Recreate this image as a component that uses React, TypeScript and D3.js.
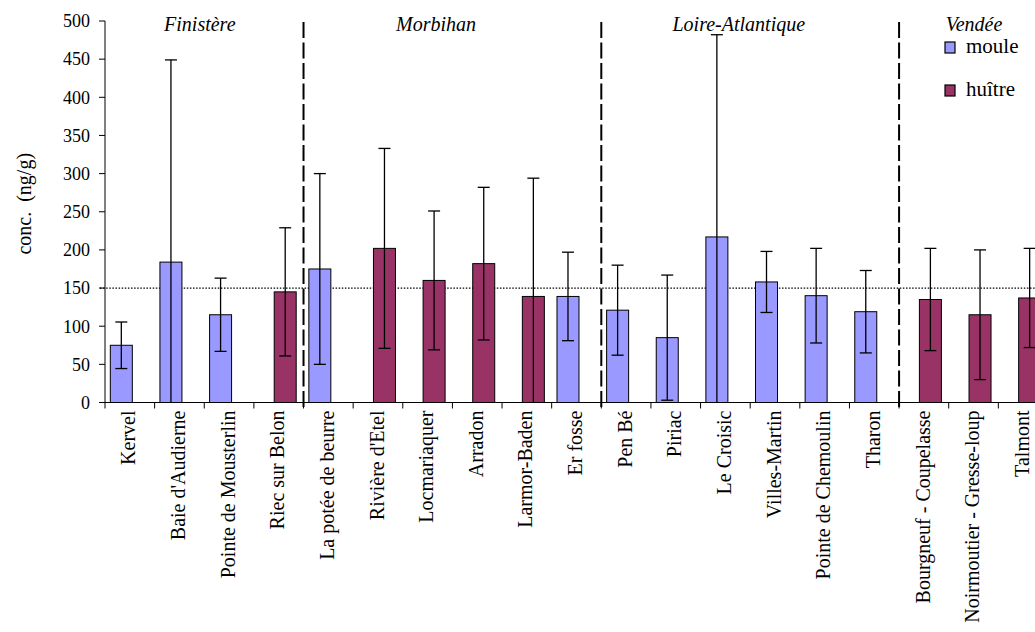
import React from 'react';
import * as d3 from 'd3';

// Sampling sites, in order along the coast
const categories = [
  'Kervel',
  "Baie d'Audierne",
  'Pointe de Mousterlin',
  'Riec sur Belon',
  'La potée de beurre',
  "Rivière d'Etel",
  'Locmariaquer',
  'Arradon',
  'Larmor-Baden',
  'Er fosse',
  'Pen Bé',
  'Piriac',
  'Le Croisic',
  'Villes-Martin',
  'Pointe de Chemoulin',
  'Tharon',
  'Bourgneuf - Coupelasse',
  'Noirmoutier - Gresse-loup',
  'Talmont',
];

// Species sampled at each site
const species = [
  'moule', 'moule', 'moule', 'huître',
  'moule', 'huître', 'huître', 'huître', 'huître', 'moule',
  'moule', 'moule', 'moule', 'moule', 'moule', 'moule',
  'huître', 'huître', 'huître',
];

// Mean concentration (ng/g) and standard deviation per site
const means = [75, 184, 115, 145, 175, 202, 160, 182, 139, 139, 121, 85, 217, 158, 140, 119, 135, 115, 137];
const errors = [30.5, 265, 48, 84, 125, 131, 91, 100, 155, 58, 59, 82, 265, 40, 62, 54, 67, 85, 65];

// Départements: name, first and last site index
const groupNames = ['Finistère', 'Morbihan', 'Loire-Atlantique', 'Vendée'];
const groupFirst = [0, 4, 10, 16];
const groupLast = [3, 9, 15, 18];

const seriesNames = ['moule', 'huître'];
const seriesColors = ['#9999FF', '#993366'];

const yTicks = [0, 50, 100, 150, 200, 250, 300, 350, 400, 450, 500];
const referenceLevel = 150;

// Layout
const W = 1035;
const H = 632;
const left = 105;
const top = 21;
const bottom = 402.5;
const bandW = 49.63;
const barW = 22;
const font = 'Liberation Serif, DejaVu Serif, serif';
// where each département title sits, in category units
const groupLabelAt = [1.91, 6.67, 12.77, 17.51];

export default function App() {
  const x = d3
    .scaleBand<string>()
    .domain(categories)
    .range([left, left + bandW * categories.length])
    .padding(0);
  const xs = d3
    .scalePoint<string>()
    .domain(seriesNames)
    .range([x.bandwidth() / 2 - 8.5, x.bandwidth() / 2 + 6.5]);
  const idx = d3.scaleLinear().domain([0, categories.length]).range([left, left + bandW * categories.length]);
  const y = d3.scaleLinear().domain([0, 500]).range([bottom, top]);
  const color = d3.scaleOrdinal<string, string>().domain(seriesNames).range(seriesColors);
  const xEnd = left + bandW * categories.length;

  return (
    <svg
      width={W}
      height={H}
      style={{ position: 'fixed', left: 0, top: 0, background: '#fff' }}
    >
      {/* reference level */}
      <line
        x1={left - 5}
        x2={xEnd}
        y1={y(referenceLevel)}
        y2={y(referenceLevel)}
        stroke="#000"
        strokeWidth={1.3}
        strokeDasharray="1.5,1.6"
      />

      {/* bars */}
      {categories.map((c, i) => {
        const cx = (x(c) as number) + (xs(species[i]) as number);
        return (
          <rect
            key={'b' + c}
            x={cx - barW / 2}
            y={y(means[i])}
            width={barW}
            height={y(0) - y(means[i])}
            fill={color(species[i])}
            stroke="#000"
            strokeWidth={1}
          />
        );
      })}

      {/* error bars */}
      {categories.map((c, i) => {
        const cx = (x(c) as number) + (xs(species[i]) as number);
        const hi = means[i] + errors[i];
        const lo = means[i] - errors[i];
        const loClamped = Math.max(0, lo);
        return (
          <g key={'e' + c} stroke="#000" strokeWidth={1.3}>
            <line x1={cx} x2={cx} y1={y(hi)} y2={y(loClamped)} />
            <line x1={cx - 6} x2={cx + 6} y1={y(hi)} y2={y(hi)} />
            {lo >= 0 && <line x1={cx - 6} x2={cx + 6} y1={y(lo)} y2={y(lo)} />}
          </g>
        );
      })}

      {/* département separators */}
      {groupLast.slice(0, -1).map((g, k) => (
        <line
          key={'s' + k}
          x1={idx(g + 1)}
          x2={idx(g + 1)}
          y1={top + 1}
          y2={bottom + 6}
          stroke="#000"
          strokeWidth={2}
          strokeDasharray="16,4.5"
        />
      ))}

      {/* y axis */}
      <line x1={left} x2={left} y1={top} y2={bottom} stroke="#000" strokeWidth={1} />
      {yTicks.map((t) => (
        <g key={'y' + t}>
          <line x1={left - 6} x2={left} y1={y(t)} y2={y(t)} stroke="#000" strokeWidth={1} />
          <text
            x={left - 15}
            y={y(t)}
            dy="0.35em"
            textAnchor="end"
            fontFamily={font}
            fontSize={18}
            fill="#000"
          >
            {t}
          </text>
        </g>
      ))}
      <text
        transform={`translate(24, ${(top + bottom) / 2 - 8}) rotate(-90)`}
        textAnchor="middle"
        dy="0.35em"
        fontFamily={font}
        fontSize={20}
        fill="#000"
        style={{ whiteSpace: 'pre' }}
      >
        {'conc.  (ng/g)'}
      </text>

      {/* x axis */}
      <line x1={left} x2={xEnd} y1={bottom} y2={bottom} stroke="#000" strokeWidth={1} />
      {d3.range(categories.length + 1).map((k) => (
        <line key={'t' + k} x1={idx(k)} x2={idx(k)} y1={bottom} y2={bottom + 6} stroke="#000" strokeWidth={1} />
      ))}
      {categories.map((c) => (
        <text
          key={'l' + c}
          transform={`translate(${(x(c) as number) + x.bandwidth() / 2 - 1}, ${bottom + 8}) rotate(-90)`}
          textAnchor="end"
          dy="0.33em"
          fontFamily={font}
          fontSize={20}
          fill="#000"
          style={{ whiteSpace: 'pre' }}
        >
          {c}
        </text>
      ))}

      {/* département titles */}
      {groupNames.map((g, k) => (
        <text
          key={'g' + g}
          x={idx(groupLabelAt[k])}
          y={31}
          textAnchor="middle"
          fontFamily={font}
          fontSize={20}
          fontStyle="italic"
          fill="#000"
        >
          {g}
        </text>
      ))}

      {/* legend */}
      {seriesNames.map((s, k) => (
        <g key={'lg' + s} transform={`translate(945, ${42 + k * 43})`}>
          <rect x={0} y={0} width={10} height={11} fill={color(s)} stroke="#000" strokeWidth={1.2} />
          <text x={21} y={11} fontFamily={font} fontSize={21} fill="#000">
            {s}
          </text>
        </g>
      ))}
    </svg>
  );
}
